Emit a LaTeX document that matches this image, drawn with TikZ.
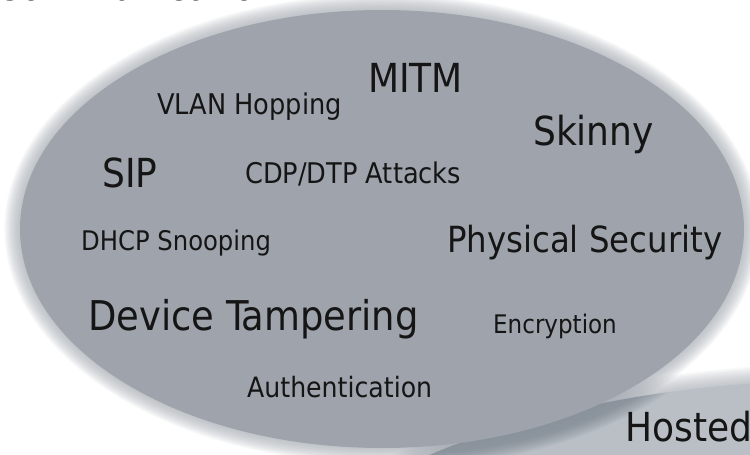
\documentclass[tikz,border=0pt]{standalone}
\usepackage{fontspec}
\setmainfont{DejaVu Sans Condensed}
\definecolor{mainfill}{HTML}{9EA3AC}
\definecolor{haloc}{HTML}{A3A9B1}
\definecolor{backfill}{HTML}{B9BFC5}
\definecolor{shadowc}{HTML}{7F8993}
\definecolor{txt}{HTML}{151515}
\tikzset{
  lbl/.style={anchor=base west, inner sep=0pt, text=txt},
  big/.style={lbl, font=\fontsize{40}{44}\selectfont},
  small/.style={lbl, font=\fontsize{27}{30}\selectfont},
  mid/.style={lbl, font=\fontsize{28}{32}\selectfont},
}
\begin{document}
\begin{tikzpicture}[x=1pt,y=-1pt]
\useasboundingbox (0,0) rectangle (750,455);
\fill[white] (0,0) rectangle (750,455);
% halo of the back bubble
\foreach \i in {1,...,12}{
  \fill[haloc, opacity=0.07] (850,642) ellipse ({600+\i*1.4} and {262+\i*1.4});
}
% back bubble
\fill[backfill] (850,642) ellipse (600 and 262);
% halo of main bubble
\foreach \i in {1,...,12}{
  \fill[haloc, opacity=0.08] (382,229) ellipse ({362+\i*1.3} and {219+\i*1.3});
}
% shadow of main bubble on back bubble
\begin{scope}
  \clip (850,642) ellipse (600 and 262);
  \foreach \i in {1,...,8}{
    \fill[shadowc, opacity=0.13] (392,236) ellipse ({360+\i*1.8} and {217+\i*1.8});
  }
\end{scope}
% main bubble
\fill[mainfill] (382,229) ellipse (362 and 219);
% texts
\node[big, anchor=base east] (comm) at (279,1) {Communication};
\node[big] (mitm) at (368,92) {MITM};
\node[small, font=\fontsize{28.5}{32}\selectfont] (vlan) at (157,114) {VLAN Hopping};
\node[big] (skinny) at (533,145) {Skinny};
\node[big] (sip) at (102,187) {SIP};
\node[small, font=\fontsize{28.5}{32}\selectfont] (cdp) at (245,183) {CDP/DTP Attacks};
\node[small] (dhcp) at (81,250) {DHCP Snooping};
\node[big, font=\fontsize{36}{40}\selectfont] (phys) at (447,252) {Physical Security};
\node[big, font=\fontsize{41}{45}\selectfont] (dev) at (88,330) {Device Tampering};
\node[small, font=\fontsize{25.6}{30}\selectfont] (enc) at (493,333) {Encryption};
\node[mid] (auth) at (247,397) {Authentication};
\node[big] (hosted) at (625,441) {Hosted};
\end{tikzpicture}
\end{document}
